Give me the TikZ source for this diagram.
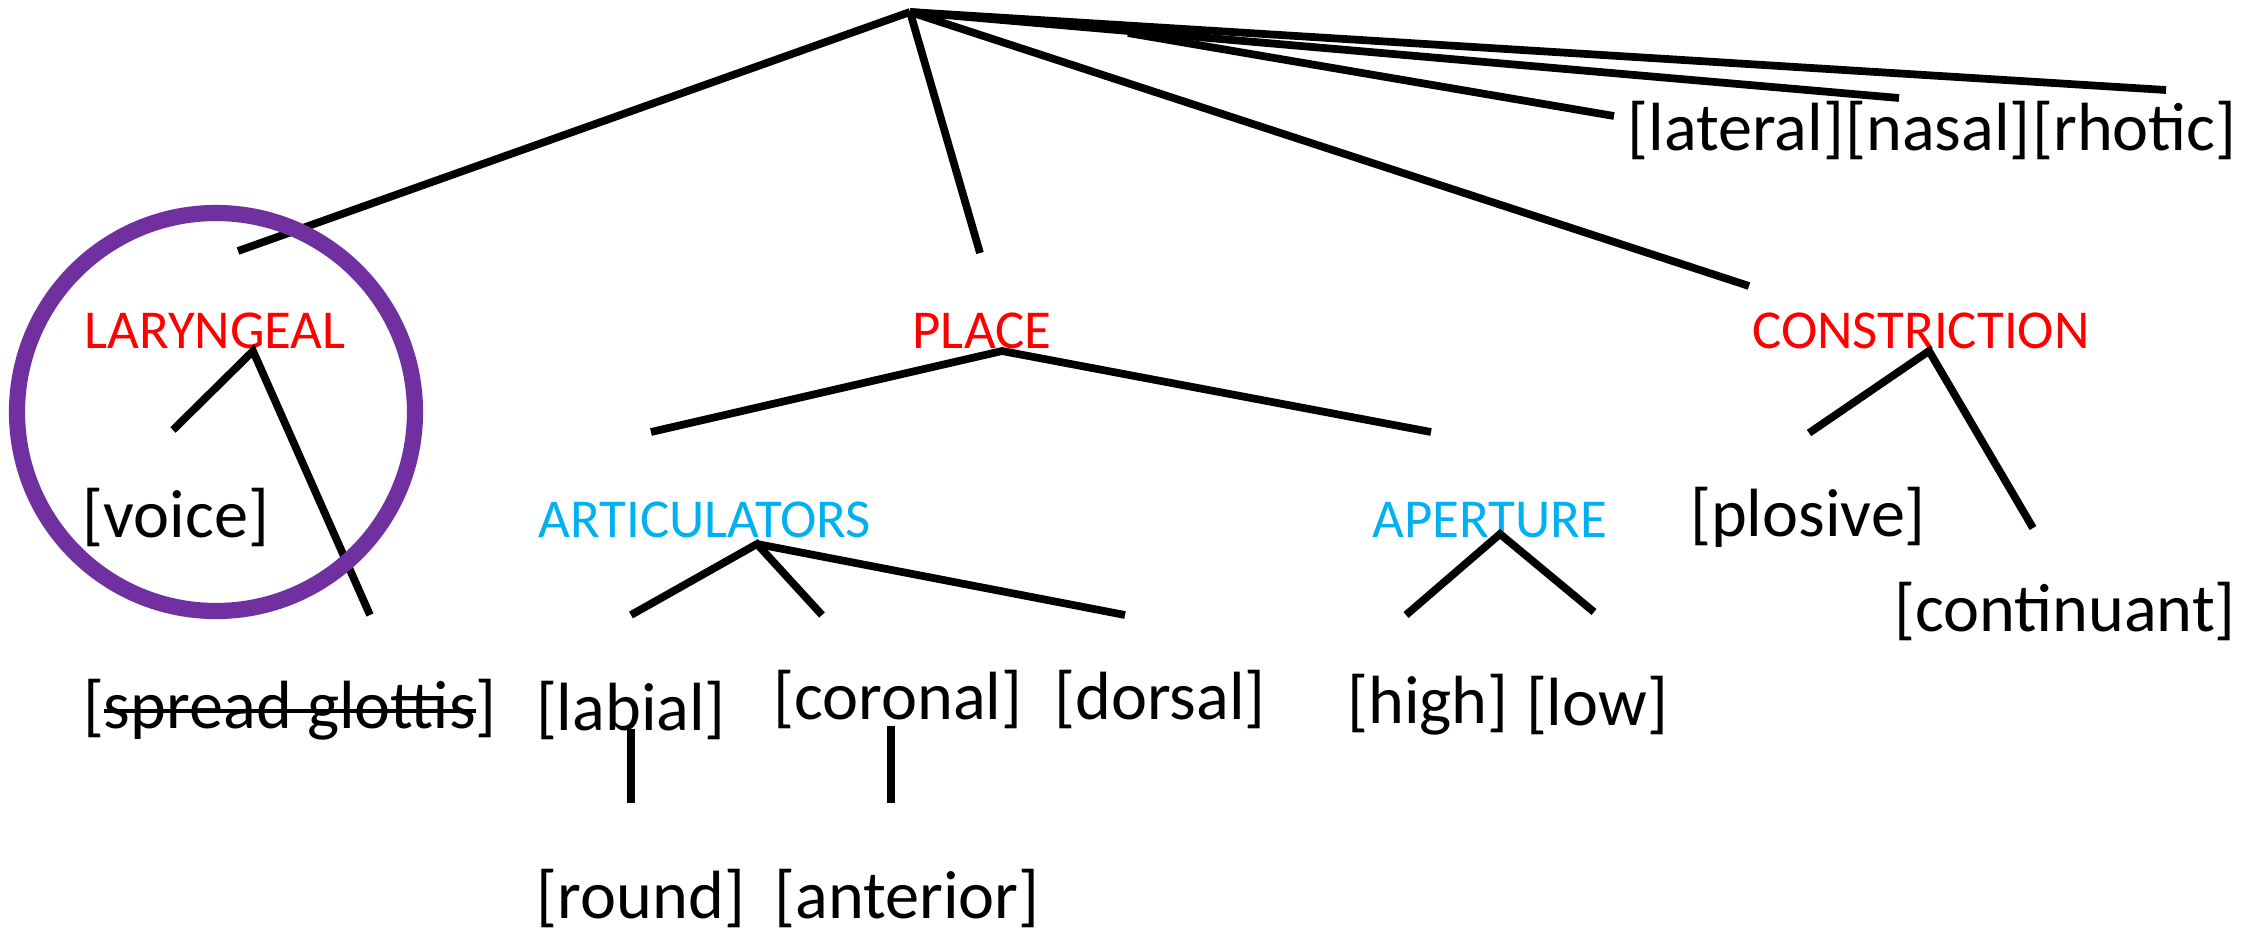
\documentclass[tikz,border=0pt]{standalone}
\usepackage{fontspec}
\setmainfont{Carlito}
\usepackage{xcolor}
\usetikzlibrary{positioning}
\definecolor{classred}{HTML}{FF0000}
\definecolor{subblue}{HTML}{00B0F0}
\definecolor{ringpurple}{HTML}{7030A0}
\newcommand{\strk}[1]{\setbox0=\hbox{#1}\rlap{\rule[0.5ex]{\wd0}{0.9pt}}\box0}
\tikzset{
  feat/.style={inner sep=0pt, font=\fontsize{19.4}{23}\selectfont},
  classlbl/.style={inner sep=0pt, font=\fontsize{15.6}{19}\selectfont, text=classred},
  sublbl/.style={classlbl, text=subblue},
  branch/.style={line width=2.2pt},
}

\begin{document}
\begin{tikzpicture}[x=0.01cm,y=-0.01cm]
    \useasboundingbox (0,0) rectangle (2264,936);

    % root and the features hanging off it
    \coordinate (root) at (910,12);
    \node[feat, anchor=west] (lat) at (1627,130) {[lateral]};
    \node[feat, right=0pt of lat] (nas) {[nasal]};
    \node[feat, right=0pt of nas] (rho) {[rhotic]};
    \coordinate (latfork) at (1128,33);
    \coordinate (latend) at (1614,116);
    \coordinate (nasend) at (1899,98);
    \coordinate (rhoend) at (2166,90);
    \draw[branch] (root) -- (rhoend);
    \draw[branch] (root) -- (nasend);
    \draw[branch] (latfork) -- (latend);

    % class nodes
    \node[classlbl] (lar) at (215,331) {LARYNGEAL};
    \node[classlbl] (place) at (982,331) {PLACE};
    \node[classlbl] (cons) at (1921,331) {CONSTRICTION};
    \coordinate (larend) at (238,251);
    \coordinate (placeend) at (980,253);
    \coordinate (consend) at (1749,286);
    \draw[branch] (root) -- (larend);
    \draw[branch] (root) -- (placeend);
    \draw[branch] (root) -- (consend);

    % laryngeal
    \node[feat] (voice) at (176,517) {[voice]};
    \node[feat] (sg) at (290,710) {[\strk{spread glottis}]};
    \coordinate (larv) at (253,351);
    \coordinate (voiceend) at (173,430);
    \coordinate (sgend) at (370,615);
    \draw[branch] (voiceend) -- (larv) -- (sgend);
    \draw[ringpurple, line width=4.6pt] (216,412) circle (199);

    % place
    \node[sublbl] (artic) at (705,520) {ARTICULATORS};
    \node[sublbl] (apert) at (1490,520) {APERTURE};
    \coordinate (placev) at (1002,351);
    \coordinate (articend) at (651,432);
    \coordinate (apertend) at (1431,432);
    \draw[branch] (articend) -- (placev) -- (apertend);

    % articulators
    \node[feat] (lab) at (631,710) {[labial]};
    \node[feat] (cor) at (898,699) {[coronal]};
    \node[feat] (dor) at (1160,699) {[dorsal]};
    \node[feat] (rnd) at (641,898) {[round]};
    \node[feat] (ant) at (907,898) {[anterior]};
    \coordinate (articv) at (757,544);
    \coordinate (labend) at (631,615);
    \coordinate (corend) at (822,615);
    \coordinate (dorend) at (1125,615);
    \draw[branch] (labend) -- (articv) -- (corend);
    \draw[branch] (articv) -- (dorend);
    \coordinate (labtop) at (631,729);
    \coordinate (rndend) at (631,803);
    \coordinate (cortop) at (891,726);
    \coordinate (antend) at (891,803);
    \draw[branch] (labtop) -- (rndend);
    \draw[branch] (cortop) -- (antend);

    % aperture
    \node[feat] (high) at (1428,705) {[high]};
    \node[feat] (low) at (1597,705) {[low]};
    \coordinate (apertv) at (1500,534);
    \coordinate (highend) at (1406,615);
    \coordinate (lowend) at (1594,612);
    \draw[branch] (highend) -- (apertv) -- (lowend);

    % constriction
    \node[feat] (plos) at (1808,517) {[plosive]};
    \node[feat] (cont) at (2065,611) {[continuant]};
    \coordinate (consv) at (1929,351);
    \coordinate (plosend) at (1809,433);
    \coordinate (contend) at (2033,528);
    \draw[branch] (plosend) -- (consv) -- (contend);
\end{tikzpicture}
\end{document}
